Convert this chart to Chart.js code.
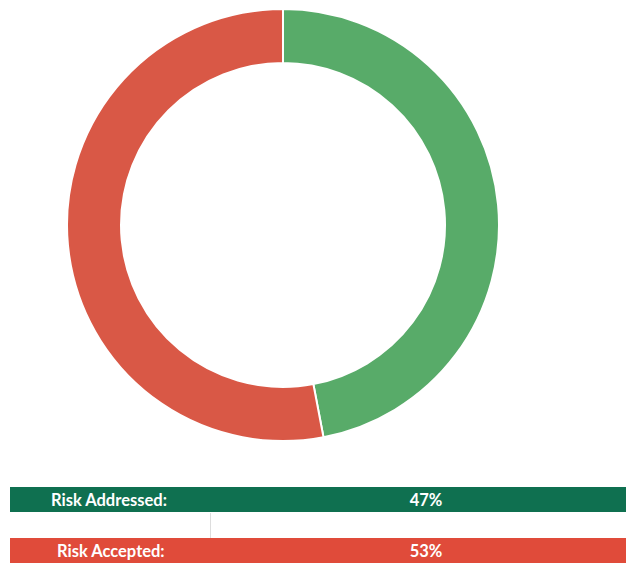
<!DOCTYPE html>
<html>
<head>
<meta charset="utf-8">
<script src="https://cdn.jsdelivr.net/npm/chart.js@4/dist/chart.umd.min.js"></script>
<style>
  html, body { margin: 0; padding: 0; background: #fff; }
  body { width: 626px; height: 563px; position: relative; overflow: hidden; font-family: Lato, "Open Sans", sans-serif; }
  #wrap { position: absolute; left: 66px; top: 8px; width: 434px; height: 434px; }
  .row { position: absolute; left: 10px; width: 616px; height: 25px; color: #fff; font-weight: bold; font-size: 16.5px; line-height: 26px; }
  .row .lab { position: absolute; }
  .row .val { position: absolute; left: 386px; width: 60px; text-align: center; }
  #vline { position: absolute; left: 210px; top: 513px; width: 1px; height: 25px; background: #ddd; }
</style>
</head>
<body>
<div id="wrap"><canvas id="c"></canvas></div>
<div id="vline"></div>
<div id="legend"></div>
<script>
const categories = ["Risk Addressed", "Risk Accepted"];
const values = [47, 53];
const sliceColors = ["#58ab69", "#d95846"];
const barColors = ["#0f7050", "#e04b3a"];
const rowTops = [487, 538];
const labelLefts = [41, 47];

new Chart(document.getElementById("c"), {
  type: "doughnut",
  data: {
    labels: categories,
    datasets: [{
      data: values,
      backgroundColor: sliceColors,
      borderColor: "#ffffff",
      borderWidth: 2,
      hoverOffset: 0
    }]
  },
  options: {
    responsive: true,
    maintainAspectRatio: false,
    animation: false,
    cutout: "75%",
    layout: { padding: 0 },
    plugins: { legend: { display: false }, tooltip: { enabled: false } }
  }
});

const legend = document.getElementById("legend");
categories.forEach((c, i) => {
  const row = document.createElement("div");
  row.className = "row";
  row.style.top = rowTops[i] + "px";
  row.style.background = barColors[i];
  const lab = document.createElement("span");
  lab.className = "lab";
  lab.style.left = labelLefts[i] + "px";
  lab.textContent = c + ":";
  const val = document.createElement("span");
  val.className = "val";
  val.textContent = values[i] + "%";
  row.appendChild(lab);
  row.appendChild(val);
  legend.appendChild(row);
});
</script>
</body>
</html>
